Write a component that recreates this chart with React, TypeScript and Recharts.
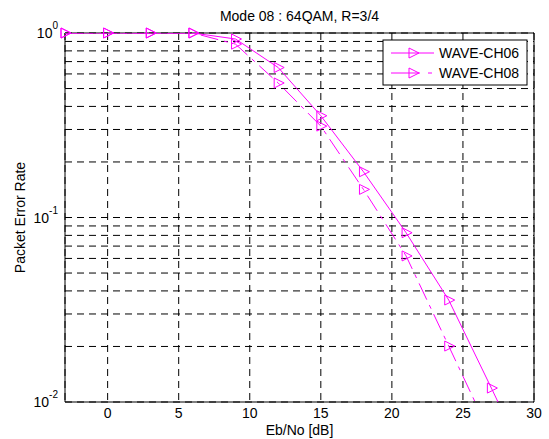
import React from 'react';
import { LineChart, Line, XAxis, YAxis, CartesianGrid, ReferenceArea } from 'recharts';

// Eb/No sweep and packet error rate per channel model
const EBNO = [-3, 0, 3, 6, 9, 12, 15, 18, 21, 24, 27, 30];
const PER_CH06 = [1, 1, 1, 1, 0.928, 0.65, 0.356, 0.177, 0.0827, 0.0357, 0.0119, 0.0039];
const PER_CH08 = [1, 1, 1, 1, 0.87, 0.536, 0.313, 0.142, 0.0619, 0.0201, 0.0065, 0.0021];

const SERIES_NAMES = ['WAVE-CH06', 'WAVE-CH08'];
const X_TICKS = [0, 5, 10, 15, 20, 25, 30];
const Y_TICKS = [
  0.01, 0.02, 0.03, 0.04, 0.05, 0.06, 0.07, 0.08, 0.09,
  0.1, 0.2, 0.3, 0.4, 0.5, 0.6, 0.7, 0.8, 0.9, 1,
];
const Y_MIN = 0.01;
const Y_MAX = 1;

const MAGENTA = '#ff00ff';
const FONT = '"Liberation Sans", Arial, sans-serif';
const DASHDOT = '18 6 4 6';

const data = EBNO.map((x, i) => ({ x, ch06: PER_CH06[i], ch08: PER_CH08[i] }));

// markers only where the point is inside the plotted range (the rest is clipped anyway)
const inRange = (v: number) => (v >= Y_MIN && v <= Y_MAX ? v : null);

function Tri({ cx, cy }: { cx: number; cy: number }) {
  return (
    <polygon
      points={`${cx - 4},${cy - 5} ${cx - 4},${cy + 5} ${cx + 6},${cy}`}
      fill="none"
      stroke={MAGENTA}
      strokeWidth={1}
    />
  );
}

const renderDot = (props: any) => {
  const { cx, cy, index } = props;
  if (cx == null || cy == null || isNaN(cy)) return <g key={`d-${index}`} />;
  return <Tri key={`d-${index}`} cx={cx} cy={cy} />;
};

const YTick = (props: any) => {
  const { y, payload } = props;
  const e = Math.log10(payload.value);
  if (Math.abs(e - Math.round(e)) > 1e-6) return <g />;
  return (
    <text x={58} y={y + 5} textAnchor="end" fontFamily={FONT} fontSize={14} fill="#000">
      <tspan>10</tspan>
      <tspan dy={-9} fontSize={10}>{String(Math.round(e))}</tspan>
    </text>
  );
};

export default function App() {
  return (
    <div style={{ position: 'absolute', left: 0, top: 0, width: 549, height: 439, background: '#fff' }}>
      <LineChart
        width={549}
        height={439}
        data={data}
        margin={{ top: 33, right: 15, bottom: 0, left: 0 }}
        style={{ fontFamily: FONT }}
      >
        <CartesianGrid yAxisId="main" stroke="#000" strokeDasharray="7 5" strokeWidth={1} />
        <XAxis
          dataKey="x"
          type="number"
          domain={[-3, 30]}
          ticks={X_TICKS}
          height={37}
          axisLine={false}
          tickLine={false}
          tickSize={4}
          tickMargin={2}
          tick={{ fill: '#000', fontSize: 14, fontFamily: FONT }}
          label={{ value: 'Eb/No [dB]', position: 'insideBottom', offset: 4, fill: '#000', fontSize: 14, fontFamily: FONT }}
        />
        <YAxis
          yAxisId="main"
          type="number"
          scale="log"
          domain={[Y_MIN, Y_MAX]}
          ticks={Y_TICKS}
          allowDataOverflow
          width={65}
          axisLine={false}
          tickLine={false}
          interval={0}
          tick={<YTick />}
          label={{
            content: (p: any) => {
              const vb = p.viewBox || { y: 33, height: 369 };
              const cy = vb.y + vb.height / 2;
              return (
                <text
                  x={25}
                  y={cy}
                  transform={`rotate(-90 25 ${cy})`}
                  textAnchor="middle"
                  fontFamily={FONT}
                  fontSize={14}
                  fill="#000"
                >
                  Packet Error Rate
                </text>
              );
            },
          }}
        />
        <YAxis yAxisId="mk" type="number" scale="log" domain={[Y_MIN, Y_MAX]} ticks={Y_TICKS} hide />
        <ReferenceArea
          yAxisId="main"
          x1={-3}
          x2={30}
          y1={Y_MIN}
          y2={Y_MAX}
          fill="none"
          stroke="#000"
          strokeWidth={1}
          ifOverflow="visible"
        />
        <Line
          yAxisId="main"
          dataKey="ch06"
          name={SERIES_NAMES[0]}
          stroke={MAGENTA}
          strokeWidth={1}
          dot={false}
          activeDot={false}
          isAnimationActive={false}
        />
        <Line
          yAxisId="main"
          dataKey="ch08"
          name={SERIES_NAMES[1]}
          stroke={MAGENTA}
          strokeWidth={1}
          strokeDasharray={DASHDOT}
          dot={false}
          activeDot={false}
          isAnimationActive={false}
        />
        <Line
          yAxisId="mk"
          dataKey={(d: any) => inRange(d.ch06)}
          stroke="none"
          dot={renderDot}
          activeDot={false}
          legendType="none"
          isAnimationActive={false}
        />
        <Line
          yAxisId="mk"
          dataKey={(d: any) => inRange(d.ch08)}
          stroke="none"
          dot={renderDot}
          activeDot={false}
          legendType="none"
          isAnimationActive={false}
        />
      </LineChart>
      <svg
        width={549}
        height={439}
        style={{ position: 'absolute', left: 0, top: 0, pointerEvents: 'none' }}
      >
        <text x={299.5} y={21} textAnchor="middle" fontFamily={FONT} fontSize={14} fill="#000">
          Mode 08 : 64QAM, R=3/4
        </text>
        <rect x={383} y={40} width={144} height={45} fill="#fff" stroke="#000" strokeWidth={1} />
        <line x1={391} y1={53} x2={434} y2={53} stroke={MAGENTA} strokeWidth={1} />
        <Tri cx={413} cy={53} />
        <text x={439} y={58} fontFamily={FONT} fontSize={14} fill="#000">{SERIES_NAMES[0]}</text>
        <line x1={391} y1={73} x2={434} y2={73} stroke={MAGENTA} strokeWidth={1} strokeDasharray="29 8 4 8" />
        <Tri cx={413} cy={73} />
        <text x={439} y={78} fontFamily={FONT} fontSize={14} fill="#000">{SERIES_NAMES[1]}</text>
      </svg>
    </div>
  );
}
